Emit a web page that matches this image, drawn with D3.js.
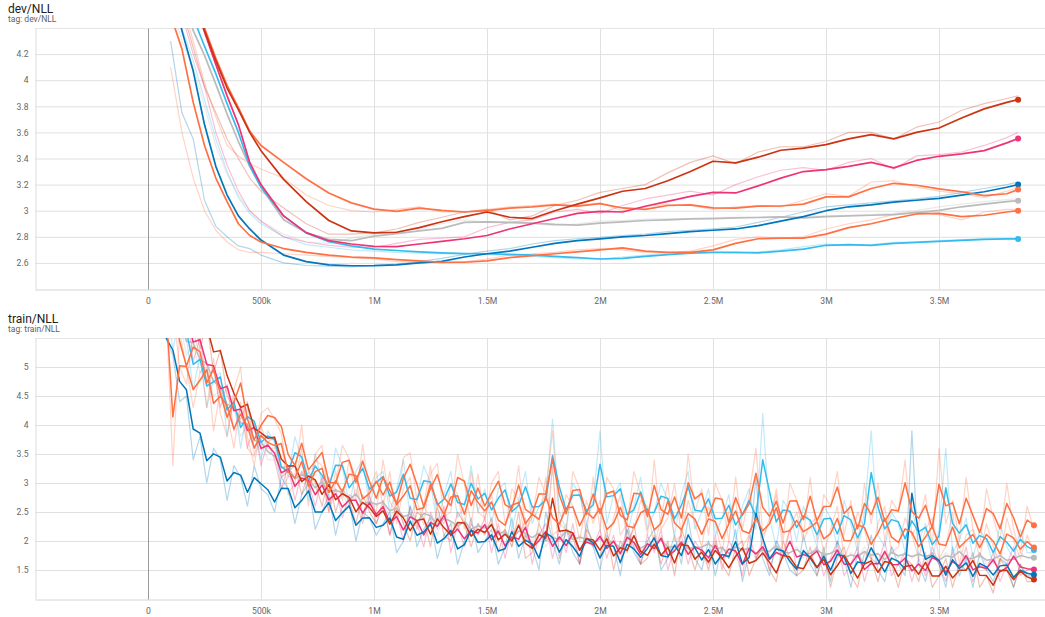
<!DOCTYPE html>
<html>
<head>
<meta charset="utf-8">
<script src="https://cdn.jsdelivr.net/npm/d3@7"></script>
<style>
  body { margin: 0; background: #fff; }
  svg { display: block; font-family: Roboto, "Noto Sans", sans-serif; }
</style>
</head>
<body>
<svg id="chart"></svg>
<script>

// ---- shared axis values ----
const xTicks = [0, 500000, 1000000, 1500000, 2000000, 2500000, 3000000, 3500000];
const xTickLabels = ["0", "500k", "1M", "1.5M", "2M", "2.5M", "3M", "3.5M"];
const devYTicks = [2.6, 2.8, 3, 3.2, 3.4, 3.6, 3.8, 4, 4.2];
const trainYTicks = [1.5, 2, 2.5, 3, 3.5, 4, 4.5, 5];

// run colours (tensorboard palette)
const colGrey = "#bbbbbb", colCyan = "#33bbee", colBlue = "#0077bb",
      colOrange = "#ff7043", colMagenta = "#ee3377", colRed = "#cc3311";

// ---- dev/NLL : eval steps (thousands), smoothed and raw values ----
const devStepsK = [100, 150, 200, 250, 300, 350, 400, 450, 500,
  600, 700, 800, 900, 1000, 1100, 1200, 1300, 1400, 1500, 1600, 1700, 1800, 1900, 2000,
  2100, 2200, 2300, 2400, 2500, 2600, 2700, 2800, 2900, 3000, 3100, 3200, 3300, 3400,
  3500, 3600, 3700, 3800, 3850];

const devRed = [5.2, 4.95, 4.65, 4.38, 4.15, 3.94, 3.775, 3.6, 3.46, 3.24, 3.07, 2.925, 2.845, 2.83, 2.835, 2.87, 2.915, 2.955, 2.99, 2.95, 2.94, 3.0, 3.05, 3.098, 3.149, 3.17, 3.23, 3.3, 3.379, 3.366, 3.41, 3.463, 3.48, 3.506, 3.55, 3.583, 3.55, 3.6, 3.634, 3.71, 3.78, 3.83, 3.851];
const devRedRaw = [4.85, 4.55, 4.25, 3.95, 3.75, 3.55, 3.4, 3.25, 3.15, 3.02, 2.9, 2.82, 2.82, 2.83, 2.86, 2.91, 2.95, 2.99, 3.01, 2.93, 2.96, 3.04, 3.08, 3.14, 3.17, 3.2, 3.29, 3.37, 3.42, 3.36, 3.45, 3.49, 3.49, 3.53, 3.6, 3.6, 3.55, 3.64, 3.68, 3.77, 3.82, 3.86, 3.88];

const devOrangeHigh = [5.25, 5.0, 4.7, 4.4, 4.17, 3.96, 3.79, 3.61, 3.5, 3.37, 3.245, 3.135, 3.06, 3.012, 2.995, 3.02, 3.003, 2.99, 3.0, 3.02, 3.03, 3.045, 3.035, 3.054, 3.021, 3.01, 3.04, 3.045, 3.021, 3.02, 3.035, 3.036, 3.05, 3.106, 3.106, 3.17, 3.21, 3.195, 3.167, 3.145, 3.115, 3.13, 3.162];
const devOrangeHighRaw = [4.9, 4.6, 4.3, 3.98, 3.72, 3.5, 3.42, 3.36, 3.32, 3.25, 3.12, 3.04, 3.0, 2.99, 3.01, 3.03, 2.99, 2.99, 3.01, 3.03, 3.04, 3.05, 3.04, 3.06, 3.0, 3.03, 3.05, 3.04, 3.01, 3.03, 3.04, 3.03, 3.08, 3.13, 3.11, 3.22, 3.23, 3.18, 3.15, 3.13, 3.1, 3.15, 3.18];

const devMagenta = [5.3, 4.95, 4.62, 4.37, 4.12, 3.88, 3.66, 3.37, 3.2, 2.96, 2.832, 2.77, 2.745, 2.727, 2.725, 2.745, 2.765, 2.785, 2.81, 2.86, 2.9, 2.94, 2.98, 2.995, 2.99, 3.034, 3.072, 3.11, 3.14, 3.136, 3.19, 3.25, 3.3, 3.315, 3.34, 3.37, 3.328, 3.385, 3.417, 3.435, 3.46, 3.52, 3.553];
const devMagentaRaw = [4.9, 4.5, 4.2, 3.95, 3.6, 3.35, 3.15, 3.0, 2.92, 2.8, 2.76, 2.735, 2.72, 2.72, 2.75, 2.78, 2.79, 2.8, 2.87, 2.91, 2.93, 2.99, 3.01, 2.98, 3.04, 3.09, 3.12, 3.15, 3.12, 3.2, 3.26, 3.31, 3.33, 3.31, 3.37, 3.4, 3.32, 3.42, 3.43, 3.45, 3.5, 3.56, 3.6];

const devGrey = [4.95, 4.65, 4.38, 4.19, 3.97, 3.74, 3.53, 3.34, 3.18, 2.93, 2.83, 2.78, 2.77, 2.805, 2.825, 2.845, 2.865, 2.91, 2.915, 2.91, 2.905, 2.895, 2.89, 2.905, 2.915, 2.925, 2.93, 2.937, 2.94, 2.945, 2.948, 2.952, 2.945, 2.955, 2.96, 2.965, 2.97, 2.985, 3.003, 3.03, 3.05, 3.07, 3.077];
const devGreyRaw = [4.6, 4.3, 4.1, 3.8, 3.5, 3.28, 3.12, 3.0, 2.92, 2.82, 2.76, 2.75, 2.79, 2.82, 2.84, 2.86, 2.9, 2.93, 2.91, 2.905, 2.9, 2.885, 2.9, 2.92, 2.925, 2.935, 2.94, 2.94, 2.945, 2.95, 2.95, 2.95, 2.955, 2.96, 2.965, 2.97, 2.98, 3.0, 3.03, 3.05, 3.07, 3.085, 3.09];

const devCyan = [5.3, 4.9, 4.48, 4.26, 4.05, 3.82, 3.6, 3.345, 3.18, 2.96, 2.83, 2.762, 2.73, 2.705, 2.695, 2.685, 2.677, 2.672, 2.67, 2.665, 2.66, 2.65, 2.64, 2.63, 2.635, 2.65, 2.664, 2.675, 2.681, 2.68, 2.677, 2.69, 2.705, 2.735, 2.74, 2.735, 2.75, 2.758, 2.765, 2.772, 2.78, 2.784, 2.784];
const devCyanRaw = [4.9, 4.4, 4.15, 3.85, 3.55, 3.3, 3.1, 2.98, 2.9, 2.8, 2.74, 2.72, 2.7, 2.69, 2.68, 2.675, 2.67, 2.665, 2.665, 2.66, 2.65, 2.64, 2.63, 2.63, 2.645, 2.66, 2.675, 2.685, 2.68, 2.675, 2.685, 2.7, 2.725, 2.745, 2.735, 2.74, 2.758, 2.762, 2.77, 2.778, 2.785, 2.786, 2.786];

const devBlue = [4.75, 4.38, 4.07, 3.66, 3.34, 3.12, 2.96, 2.86, 2.775, 2.66, 2.61, 2.585, 2.578, 2.579, 2.585, 2.6, 2.612, 2.645, 2.67, 2.69, 2.72, 2.75, 2.77, 2.784, 2.8, 2.81, 2.825, 2.84, 2.85, 2.86, 2.885, 2.92, 2.955, 3.0, 3.03, 3.045, 3.065, 3.08, 3.095, 3.12, 3.145, 3.18, 3.2];
const devBlueRaw = [4.3, 3.75, 3.55, 3.08, 2.88, 2.8, 2.73, 2.71, 2.66, 2.6, 2.58, 2.575, 2.57, 2.58, 2.59, 2.61, 2.635, 2.665, 2.69, 2.71, 2.745, 2.77, 2.785, 2.795, 2.81, 2.82, 2.84, 2.85, 2.86, 2.875, 2.91, 2.95, 2.99, 3.03, 3.045, 3.06, 3.075, 3.09, 3.11, 3.14, 3.17, 3.2, 3.22];

const devOrangeLow = [4.5, 4.24, 3.83, 3.5, 3.25, 3.07, 2.9, 2.81, 2.76, 2.71, 2.68, 2.66, 2.645, 2.638, 2.625, 2.615, 2.605, 2.605, 2.615, 2.64, 2.656, 2.67, 2.685, 2.7, 2.715, 2.69, 2.68, 2.68, 2.7, 2.75, 2.785, 2.79, 2.79, 2.82, 2.87, 2.9, 2.94, 2.975, 2.98, 2.955, 2.965, 2.99, 3.0];
const devOrangeLowRaw = [4.1, 3.6, 3.25, 3.0, 2.85, 2.76, 2.7, 2.68, 2.68, 2.67, 2.66, 2.65, 2.64, 2.63, 2.61, 2.61, 2.6, 2.61, 2.63, 2.66, 2.67, 2.68, 2.7, 2.71, 2.7, 2.68, 2.68, 2.69, 2.73, 2.78, 2.8, 2.79, 2.8, 2.86, 2.9, 2.93, 2.97, 2.99, 2.97, 2.93, 2.99, 3.01, 3.01];

// ---- train/NLL : logged every 30k steps from 80k, raw values ----
const trainFirstStep = 80000;
const trainStepEvery = 30000;
const trainSmoothing = 0.45;

const trainOrange1 = [
  6.4, 6.0, 5.0, 4.7, 5.6, 5.2, 4.3, 5.15, 4.2, 3.8, 4.6, 5.0, 3.6, 3.45, 4.2, 4.3,
  4.1, 3.85, 3.1, 3.15, 4.0, 2.85, 3.5, 3.65, 2.6, 2.98, 3.65, 3.42, 2.7, 3.67, 2.74, 2.5,
  3.4, 2.68, 2.46, 3.44, 3.52, 2.7, 2.28, 3.16, 3.34, 2.42, 2.5, 3.49, 2.98, 2.27, 3.16, 2.35,
  3.0, 3.2, 2.3, 2.5, 3.3, 2.2, 2.4, 3.1, 2.8, 3.9, 2.3, 2.2, 3.2, 2.9, 2.1, 3.1,
  2.2, 3.1, 2.9, 2.1, 2.3, 3.2, 2.8, 2.1, 3.4, 2.2, 2.4, 3.0, 2.1, 3.5, 2.5, 2.9,
  2.1, 3.0, 2.7, 2.0, 3.1, 2.2, 2.8, 3.6, 2.1, 2.3, 2.9, 2.0, 3.0, 2.7, 2.1, 3.1,
  2.0, 2.8, 2.6, 3.2, 2.1, 2.7, 1.9, 3.0, 2.3, 3.0, 2.0, 2.7, 2.5, 3.4, 2.1, 2.3,
  2.8, 1.9, 3.6, 2.3, 2.7, 2.0, 3.1, 2.2, 1.9, 2.9, 2.4, 2.0, 3.0, 2.2, 1.8, 2.6,
  2.2];
const trainOrange2 = [
  6.0, 3.3, 5.6, 5.0, 4.3, 4.9, 5.1, 3.9, 4.6, 4.2, 3.6, 4.4, 3.8, 3.3, 4.0, 3.6,
  3.6, 3.7, 2.8, 3.0, 3.6, 2.6, 3.4, 3.3, 2.5, 3.2, 2.7, 3.4, 3.1, 2.4, 2.9, 3.2,
  2.6, 3.2, 2.3, 2.9, 3.1, 2.2, 2.6, 3.3, 2.4, 2.3, 3.0, 2.8, 2.2, 3.2, 2.5, 2.4,
  2.8, 2.1, 2.2, 2.9, 2.7, 2.0, 2.6, 2.3, 3.1, 2.1, 2.2, 2.8, 2.6, 2.0, 2.7, 2.3,
  2.7, 1.9, 2.4, 2.8, 2.0, 2.2, 2.7, 2.6, 1.9, 2.4, 3.0, 2.0, 2.1, 2.7, 2.3, 1.9,
  2.6, 2.3, 1.8, 2.5, 2.7, 1.9, 2.1, 2.6, 2.0, 2.4, 2.8, 1.8, 2.2, 2.5, 2.0, 2.3,
  2.4, 1.8, 2.2, 2.6, 1.7, 2.0, 2.5, 2.2, 1.7, 2.3, 2.6, 1.8, 1.9, 2.4, 2.1, 1.7,
  2.2, 2.4, 1.7, 1.9, 2.5, 1.6, 2.1, 2.2, 1.7, 2.3, 1.9, 1.6, 2.4, 2.0, 1.7, 2.1,
  1.8];
const trainCyan = [
  6.2, 5.3, 5.9, 5.5, 4.6, 5.2, 4.3, 4.8, 4.9, 3.8, 4.5, 3.6, 4.3, 4.0, 3.4, 3.9,
  3.7, 2.9, 3.1, 3.8, 3.4, 2.7, 3.5, 3.0, 2.8, 3.6, 3.3, 2.6, 3.2, 3.4, 2.6, 3.1,
  3.2, 2.5, 2.9, 3.4, 2.4, 2.7, 3.3, 3.0, 2.3, 2.8, 3.2, 2.4, 2.6, 3.3, 2.5, 2.9,
  2.3, 2.9, 3.0, 2.2, 2.7, 3.2, 2.3, 2.6, 2.8, 4.1, 2.5, 2.2, 3.0, 2.8, 2.3, 2.7,
  3.9, 2.3, 2.8, 3.0, 2.1, 2.6, 3.1, 2.2, 2.5, 3.0, 2.7, 2.1, 2.8, 3.2, 2.2, 2.5,
  2.9, 2.1, 2.4, 2.8, 2.0, 2.6, 2.9, 2.2, 4.2, 2.4, 1.9, 2.7, 2.5, 2.0, 2.6, 2.3,
  1.9, 2.6, 2.4, 1.9, 2.7, 2.3, 1.8, 2.5, 3.9, 2.1, 1.9, 2.5, 2.3, 1.8, 2.6, 2.0,
  2.3, 1.7, 2.2, 3.6, 1.8, 2.0, 2.4, 1.7, 2.2, 2.0, 1.6, 2.3, 1.9, 1.7, 2.2, 1.8,
  1.8];
const trainBlue = [
  5.5, 5.2, 4.4, 4.5, 3.4, 3.8, 3.0, 3.6, 3.4, 2.7, 3.3, 3.1, 2.6, 3.3, 2.9, 2.8,
  2.5, 3.1, 2.9, 2.3, 2.8, 3.0, 2.2, 2.5, 2.8, 2.1, 2.6, 2.7, 2.0, 2.5, 2.4, 2.1,
  2.3, 2.5, 1.8, 2.0, 2.6, 1.9, 2.2, 2.4, 1.7, 2.1, 2.3, 1.6, 2.0, 2.4, 1.8, 2.0,
  2.2, 1.6, 1.9, 2.4, 1.7, 2.1, 1.9, 1.5, 2.5, 2.0, 1.6, 2.2, 1.8, 1.6, 2.3, 1.9,
  1.5, 2.1, 1.9, 1.4, 2.2, 1.8, 1.6, 2.0, 2.2, 1.5, 1.7, 2.1, 1.6, 2.4, 1.7, 1.5,
  2.0, 1.4, 1.9, 1.7, 2.2, 1.3, 1.8, 3.1, 1.7, 1.4, 2.0, 1.8, 1.5, 1.4, 2.1, 1.6,
  1.4, 1.9, 1.3, 2.0, 1.7, 1.2, 1.8, 1.6, 2.1, 1.5, 1.3, 1.9, 1.6, 1.4, 3.9, 1.6,
  1.3, 1.8, 1.6, 1.2, 1.9, 1.4, 1.7, 1.2, 1.8, 1.5, 1.3, 1.7, 1.6, 1.2, 1.6, 1.4,
  1.4];
const trainRed = [
  6.5, 5.9, 6.3, 5.6, 6.0, 5.3, 5.8, 4.9, 5.3, 4.5, 4.3, 4.1, 4.4, 3.6, 3.8, 3.7,
  3.8, 3.1, 3.2, 3.3, 2.8, 3.2, 3.0, 2.6, 3.1, 2.5, 2.9, 2.7, 2.3, 2.8, 2.5, 2.3,
  2.6, 2.1, 2.7, 2.3, 2.0, 2.5, 2.4, 1.9, 2.6, 2.1, 2.0, 2.5, 2.3, 1.9, 2.3, 2.1,
  2.4, 1.8, 2.2, 1.9, 2.5, 1.7, 1.8, 2.3, 2.0, 3.3, 1.7, 2.2, 2.1, 1.6, 2.2, 2.0,
  1.7, 2.2, 1.5, 2.0, 1.8, 2.3, 1.6, 1.7, 2.1, 1.6, 2.0, 1.4, 2.2, 1.9, 1.5, 1.9,
  1.5, 2.0, 1.6, 1.4, 1.9, 2.0, 1.4, 1.7, 1.9, 1.5, 1.3, 2.0, 1.7, 1.4, 1.5, 1.9,
  1.4, 1.8, 1.2, 1.7, 1.9, 1.4, 1.2, 1.8, 1.7, 1.3, 1.8, 1.6, 1.2, 1.7, 1.6, 1.3,
  1.8, 1.2, 1.4, 1.7, 1.2, 1.6, 1.5, 1.8, 1.2, 1.4, 1.1, 1.7, 1.5, 1.2, 1.6, 1.3,
  1.3];
const trainMagenta = [
  6.3, 5.7, 5.5, 6.0, 5.1, 5.5, 4.7, 5.0, 4.3, 4.7, 3.9, 4.3, 3.6, 4.0, 3.3, 3.7,
  3.4, 2.9, 3.3, 2.7, 3.2, 3.0, 2.6, 3.1, 2.5, 2.9, 2.4, 2.8, 2.7, 2.3, 2.8, 2.3,
  2.7, 2.1, 2.5, 2.0, 2.6, 2.3, 1.9, 2.5, 2.2, 2.6, 1.8, 2.3, 1.9, 2.3, 2.1, 2.4,
  1.8, 2.3, 1.7, 2.2, 2.0, 2.4, 1.6, 2.1, 2.3, 1.7, 2.2, 1.8, 2.3, 1.6, 2.1, 1.9,
  2.2, 1.7, 2.1, 1.6, 2.3, 1.9, 1.6, 2.1, 1.8, 2.2, 1.5, 1.9, 2.1, 1.6, 2.0, 1.8,
  1.6, 2.1, 1.5, 2.0, 1.8, 1.4, 2.1, 1.7, 2.0, 1.5, 1.9, 1.7, 2.2, 1.5, 1.8, 1.7,
  1.9, 1.4, 1.7, 2.0, 1.4, 1.6, 1.9, 1.3, 1.7, 1.6, 2.0, 1.4, 1.6, 1.8, 1.3, 1.7,
  1.4, 1.9, 1.6, 1.3, 1.8, 1.5, 1.9, 1.3, 1.6, 1.5, 1.8, 1.3, 1.6, 1.9, 1.4, 1.5,
  1.5];
const trainGrey = [
  6.0, 5.6, 5.8, 5.2, 5.4, 4.9, 5.0, 4.5, 4.6, 4.1, 4.3, 3.8, 4.0, 3.5, 3.7, 3.4,
  3.4, 3.1, 3.3, 2.9, 3.2, 3.0, 2.8, 3.1, 2.7, 2.9, 2.8, 2.6, 2.9, 2.5, 2.7, 2.6,
  2.7, 2.4, 2.6, 2.3, 2.5, 2.2, 2.6, 2.4, 2.1, 2.5, 2.3, 2.2, 2.4, 2.1, 2.3, 2.2,
  2.3, 2.0, 2.2, 1.9, 2.3, 2.1, 2.0, 2.2, 1.9, 2.1, 2.0, 2.3, 1.9, 2.1, 2.0, 1.9,
  2.1, 1.9, 2.0, 1.8, 2.2, 1.9, 1.8, 2.0, 1.9, 2.1, 1.8, 1.9, 2.0, 1.8, 1.9, 1.9,
  2.0, 1.8, 1.9, 1.7, 2.0, 1.8, 1.9, 1.7, 1.9, 1.8, 2.0, 1.7, 1.8, 1.9, 1.7, 1.8,
  1.9, 1.7, 1.8, 1.9, 1.6, 1.8, 1.7, 1.9, 1.7, 1.8, 1.6, 1.9, 1.7, 1.8, 1.7, 1.8,
  1.7, 1.8, 1.6, 1.8, 1.7, 1.9, 1.6, 1.7, 1.8, 1.6, 1.7, 1.8, 1.6, 1.7, 1.8, 1.7,
  1.7];

// ---------------------------------------------------------------

const svgWidth = 1045, svgHeight = 617;
const plotLeft = 35, plotRight = 1045;
const xDomain = [-500000, 3969000];

const svg = d3.select("#chart").attr("width", svgWidth).attr("height", svgHeight);
const defs = svg.append("defs");

// tensorboard style debiased moving average
function ema(values, weight) {
  let last = 0;
  return values.map((v, i) => {
    last = last * weight + (1 - weight) * v;
    return last / (1 - Math.pow(weight, i + 1));
  });
}

function devRun(color, smooth, raw) {
  return {
    color: color,
    smooth: smooth.map((v, i) => ({ step: devStepsK[i] * 1000, value: v })),
    raw: raw.map((v, i) => ({ step: devStepsK[i] * 1000, value: v }))
  };
}

function trainRun(color, raw) {
  const steps = raw.map((v, i) => trainFirstStep + i * trainStepEvery);
  const sm = ema(raw, trainSmoothing);
  return {
    color: color,
    smooth: sm.map((v, i) => ({ step: steps[i], value: v })),
    raw: raw.map((v, i) => ({ step: steps[i], value: v }))
  };
}

function drawPanel(p) {
  const x = d3.scaleLinear().domain(xDomain).range([plotLeft, plotRight]);
  const y = d3.scaleLinear().domain(p.yDomain).range([p.bottom, p.top]);
  const g = svg.append("g");

  g.append("text").attr("x", 8).attr("y", p.top - 15.5)
    .attr("font-size", 12).attr("fill", "#212121").text(p.title);
  g.append("text").attr("x", 8).attr("y", p.top - 6)
    .attr("font-size", 8.5).attr("fill", "#616161").text("tag: " + p.title);

  // top border of the plot area
  g.append("line")
    .attr("x1", plotLeft).attr("x2", plotRight)
    .attr("y1", y.range()[1] + 0.5).attr("y2", y.range()[1] + 0.5)
    .attr("stroke", "#e6e6e6");

  const yAxis = g.append("g").attr("transform", "translate(" + (plotLeft + 0.5) + ",0)")
    .call(d3.axisLeft(y).tickValues(p.yTicks).tickFormat(d => String(d))
      .tickSize(-(plotRight - plotLeft)).tickSizeOuter(0).tickPadding(7));
  yAxis.attr("font-family", "Roboto, sans-serif").attr("font-size", 8.6);
  yAxis.select(".domain").attr("stroke", "#dddddd");
  yAxis.selectAll(".tick line").attr("stroke", "#e0e0e0");
  yAxis.selectAll(".tick text").attr("fill", "#666");

  const xAxis = g.append("g").attr("transform", "translate(0," + (p.bottom + 0.5) + ")")
    .call(d3.axisBottom(x).tickValues(xTicks).tickFormat((d, i) => xTickLabels[i])
      .tickSize(-(p.bottom - p.top)).tickSizeOuter(0).tickPadding(8));
  xAxis.attr("font-family", "Roboto, sans-serif").attr("font-size", 8.6);
  xAxis.select(".domain").attr("stroke", "#d4d4d4");
  xAxis.selectAll(".tick line").attr("stroke", d => d === 0 ? "#9a9a9a" : "#e0e0e0");
  xAxis.selectAll(".tick text").attr("fill", "#666");

  const clipId = "clip-" + p.key;
  defs.append("clipPath").attr("id", clipId).append("rect")
    .attr("x", plotLeft).attr("y", p.top)
    .attr("width", plotRight - plotLeft).attr("height", p.bottom - p.top);

  const line = d3.line().x(d => x(d.step)).y(d => y(d.value));
  const plot = g.append("g").attr("clip-path", "url(#" + clipId + ")");

  plot.selectAll("path.raw").data(p.series).join("path")
    .attr("class", "raw")
    .attr("fill", "none")
    .attr("stroke", s => s.color)
    .attr("stroke-opacity", p.rawOpacity)
    .attr("stroke-width", 1.2)
    .attr("stroke-linejoin", "round")
    .attr("d", s => line(s.raw));

  plot.selectAll("path.smooth").data(p.series).join("path")
    .attr("class", "smooth")
    .attr("fill", "none")
    .attr("stroke", s => s.color)
    .attr("stroke-width", p.lineWidth)
    .attr("stroke-linejoin", "round")
    .attr("d", s => line(s.smooth));

  g.selectAll("circle.end").data(p.series).join("circle")
    .attr("class", "end")
    .attr("cx", s => x(s.smooth[s.smooth.length - 1].step))
    .attr("cy", s => y(s.smooth[s.smooth.length - 1].value))
    .attr("r", 3)
    .attr("fill", s => s.color);
}

drawPanel({
  key: "dev",
  title: "dev/NLL",
  top: 28, bottom: 289,
  yDomain: [2.4, 4.4],
  yTicks: devYTicks,
  rawOpacity: 0.3,
  lineWidth: 1.7,
  series: [
    devRun(colGrey, devGrey, devGreyRaw),
    devRun(colCyan, devCyan, devCyanRaw),
    devRun(colBlue, devBlue, devBlueRaw),
    devRun(colOrange, devOrangeLow, devOrangeLowRaw),
    devRun(colOrange, devOrangeHigh, devOrangeHighRaw),
    devRun(colMagenta, devMagenta, devMagentaRaw),
    devRun(colRed, devRed, devRedRaw)
  ]
});

drawPanel({
  key: "train",
  title: "train/NLL",
  top: 338, bottom: 599,
  yDomain: [1.0, 5.5],
  yTicks: trainYTicks,
  rawOpacity: 0.3,
  lineWidth: 1.5,
  series: [
    trainRun(colGrey, trainGrey),
    trainRun(colCyan, trainCyan),
    trainRun(colMagenta, trainMagenta),
    trainRun(colBlue, trainBlue),
    trainRun(colRed, trainRed),
    trainRun(colOrange, trainOrange2),
    trainRun(colOrange, trainOrange1)
  ]
});

</script>
</body>
</html>
